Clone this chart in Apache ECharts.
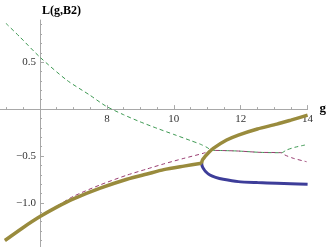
<!DOCTYPE html>
<html><head><meta charset="utf-8">
<script src="https://cdn.jsdelivr.net/npm/echarts@6/dist/echarts.min.js"></script>
<style>html,body{margin:0;padding:0;background:#fff}#c{width:327px;height:247px}</style>
</head><body><div id="c"></div>
<script>
const xTickLabels = [8, 10, 12, 14];
const yTickLabels = [-1.0, -0.5, 0.5];
const yMinorTicks = [-1.4, -1.3, -1.2, -1.1, -0.9, -0.8, -0.7, -0.6, -0.4, -0.3, -0.2, -0.1, 0.1, 0.2, 0.3, 0.4, 0.6, 0.7, 0.8, 0.9];

const goldLower = [[4.95,-1.401],[5.5,-1.262],[6.0,-1.146],[6.5,-1.045],[7.0,-0.957],[7.8,-0.843],[8.6,-0.748],[9.2,-0.692],[9.7,-0.645],[10.3,-0.608],[10.83,-0.578]];
const goldUpper = [[10.83,-0.578],[10.86,-0.54],[10.93,-0.507],[11.05,-0.46],[11.18,-0.418],[11.58,-0.33],[11.93,-0.277],[12.5,-0.212],[13.08,-0.16],[13.5,-0.117],[14.0,-0.064]];
const blueBranch = [[10.83,-0.578],[10.85,-0.61],[10.88,-0.631],[10.95,-0.665],[11.08,-0.702],[11.25,-0.727],[11.48,-0.748],[11.93,-0.773],[12.5,-0.783],[13.08,-0.79],[13.5,-0.795],[14.0,-0.801]];
const greenDashed = [[4.98,0.915],[5.4,0.769],[6.0,0.553],[6.8,0.309],[7.49,0.149],[7.97,0.032],[8.5,-0.06],[8.99,-0.135],[9.5,-0.205],[10.0,-0.27],[10.5,-0.335],[10.8,-0.375],[11.0,-0.41],[11.12,-0.437],[11.5,-0.442],[11.93,-0.447],[12.58,-0.461],[13.22,-0.465],[13.37,-0.436],[13.62,-0.407],[13.92,-0.383]];
const purpleDashed = [[4.95,-1.398],[5.5,-1.258],[6.0,-1.14],[6.5,-1.035],[7.0,-0.93],[7.79,-0.809],[8.59,-0.705],[9.2,-0.638],[9.69,-0.585],[10.3,-0.525],[10.88,-0.471],[11.12,-0.44],[11.5,-0.442],[11.93,-0.447],[12.58,-0.461],[13.22,-0.465],[13.32,-0.489],[13.57,-0.524],[13.97,-0.561]];

const serif = '"Liberation Serif", "DejaVu Serif", serif';
const axisColor = '#a8a8a8';
const fmtY = v => Number(v).toFixed(1).replace('-', '\u2212');
const fmtX = v => { const n = Number(v); return (Math.abs(n - Math.round(n)) < 1e-6 && xTickLabels.indexOf(Math.round(n)) >= 0) ? String(Math.round(n)) : ''; };

function lineSeries(data, color, width, dashed, z) {
  return {
    type: 'line', data: data, showSymbol: false, smooth: 0.25,
    lineStyle: { color: color, width: width, type: dashed ? [4, 3] : 'solid', cap: 'butt' },
    z: z, silent: true, animation: false
  };
}

const chart = echarts.init(document.getElementById('c'), null, { renderer: 'canvas' });
chart.setOption({
  animation: false,
  backgroundColor: '#fff',
  title: { text: 'L(g,B2)', left: 37, top: 0, textStyle: { fontFamily: serif, fontWeight: 'bold', fontSize: 12, color: '#000' } },
  grid: { left: -26.9, right: 19.4, top: 20, bottom: 0, containLabel: false, outerBoundsMode: 'none' },
  xAxis: {
    type: 'value', min: 4, max: 14, interval: 2, position: 'bottom', offset: -137.9,
    axisLine: { onZero: false, lineStyle: { color: axisColor, width: 1 } },
    splitLine: { show: false },
    axisTick: { inside: true, length: 4, lineStyle: { color: axisColor } },
    minorTick: { show: true, splitNumber: 4, length: 2, lineStyle: { color: axisColor } },
    minorSplitLine: { show: false },
    axisLabel: { show: true, margin: 5, fontFamily: serif, fontSize: 11, color: '#333', formatter: fmtX, hideOverlap: false },
    name: 'g', nameLocation: 'end', nameGap: 12,
    nameTextStyle: { fontFamily: serif, fontWeight: 'bold', fontSize: 13, color: '#000' }
  },
  yAxis: [
    {
      type: 'value', min: -1.47, max: 0.95, offset: -66.9,
      axisLine: { show: true, onZero: false, lineStyle: { color: axisColor, width: 1 } },
      splitLine: { show: false },
      axisTick: { inside: true, length: 4, customValues: yTickLabels, lineStyle: { color: axisColor } },
      axisLabel: { customValues: yTickLabels, margin: 4, fontFamily: serif, fontSize: 11, color: '#333', formatter: fmtY }
    },
    {
      type: 'value', min: -1.47, max: 0.95, offset: -66.9, position: 'left',
      axisLine: { show: false, onZero: false },
      splitLine: { show: false },
      axisTick: { inside: true, length: 2, customValues: yMinorTicks, lineStyle: { color: axisColor } },
      axisLabel: { show: false }
    }
  ],
  series: [
    lineSeries(greenDashed, '#3d9952', 1, true, 2),
    lineSeries(purpleDashed, '#993d71', 1, true, 3),
    lineSeries(blueBranch, '#3d3d99', 3, false, 4),
    lineSeries(goldLower, '#998b3d', 3.5, false, 5),
    lineSeries(goldUpper, '#998b3d', 3.5, false, 5)
  ]
});
</script></body></html>
